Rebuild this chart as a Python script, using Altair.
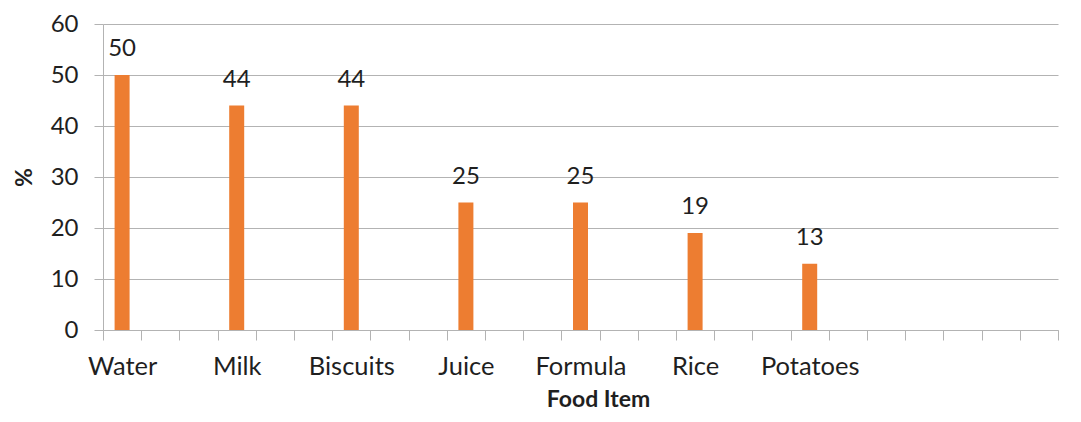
import altair as alt
import pandas as pd

foods = ["Water", "Milk", "Biscuits", "Juice", "Formula", "Rice", "Potatoes"]
values = [50, 44, 44, 25, 25, 19, 13]
y_ticks = [0, 10, 20, 30, 40, 50, 60]

# Excel-style category axis: 25 categories, a label every 3rd one
n_cats = 25
domain = []
for i in range(n_cats):
    if i % 3 == 0 and i // 3 < len(foods):
        domain.append(foods[i // 3])
    else:
        domain.append(f"~{i}")

df = pd.DataFrame({"food": foods, "value": values})

FONT = "Lato"
TXT = "#1f1f1f"
GRID = "#B3B3B3"

x_enc = alt.X(
    "food:N",
    scale=alt.Scale(domain=domain, paddingInner=0, paddingOuter=0),
    sort=domain,
    axis=alt.Axis(
        title="Food Item",
        labelExpr="indexof(datum.label, '~') == 0 ? '' : datum.label",
        labelAngle=0,
        labelFont=FONT,
        labelFontSize=25.5,
        labelColor=TXT,
        labelPadding=14,
        labelOverlap=False,
        tickBand="extent",
        tickSize=10,
        tickColor=GRID,
        domainColor=GRID,
        titleFont=FONT,
        titleFontSize=23,
        titleFontWeight="bold",
        titleColor=TXT,
        titlePadding=9,
        titleX=495,
        grid=False,
    ),
)

y_enc = alt.Y(
    "value:Q",
    scale=alt.Scale(domain=[0, 60], nice=False),
    axis=alt.Axis(
        title="%",
        values=y_ticks,
        labelFont=FONT,
        labelFontSize=24,
        labelColor=TXT,
        labelPadding=16,
        tickSize=9,
        tickColor=GRID,
        domainColor=GRID,
        gridColor=GRID,
        titleFont=FONT,
        titleFontSize=23,
        titleFontWeight="bold",
        titleColor=TXT,
        titlePadding=14,
    ),
)

bars = alt.Chart(df).mark_bar(size=15, color="#ED7D31").encode(x=x_enc, y=y_enc)

labels = alt.Chart(df).mark_text(
    font=FONT, fontSize=24, color=TXT, baseline="alphabetic", dy=-19
).encode(x=alt.X("food:N", sort=domain), y="value:Q", text="value:Q")

chart = (
    alt.layer(bars, labels)
    .properties(
        width=955,
        height=306,
        autosize=alt.AutoSizeParams(type="none"),
        padding={"left": 95, "top": 16, "right": 10, "bottom": 84},
    )
    .configure_view(stroke=None)
)

chart.save("out.html", embed_options={"renderer": "svg", "actions": False})
